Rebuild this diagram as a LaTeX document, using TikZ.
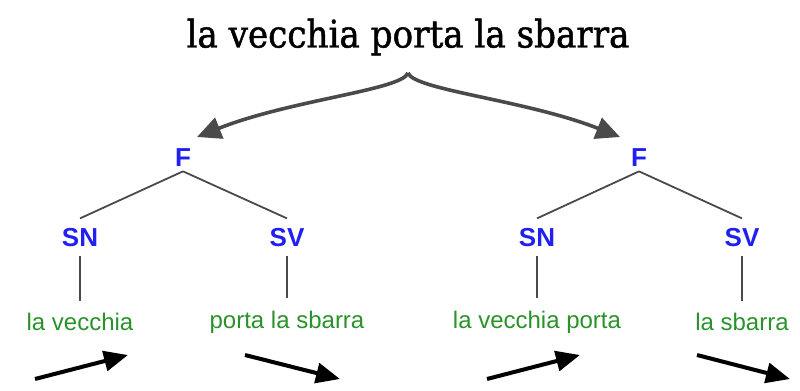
\documentclass[tikz,border=0pt]{standalone}
\usepackage{fontspec}
\setmainfont{Liberation Sans}
\newfontfamily\titlefont[FakeBold=1.2]{DejaVu Serif Condensed}
\usetikzlibrary{arrows.meta}
\definecolor{catblue}{HTML}{2020F0}
\definecolor{leafgreen}{HTML}{2A922A}
\definecolor{branchgray}{HTML}{4A4A4A}
\tikzset{
	cat/.style={text=catblue,font=\bfseries\fontsize{13}{15}\selectfont,inner sep=1pt},
	leaf/.style={text=leafgreen,font=\fontsize{12}{14}\selectfont,inner sep=1pt},
	branch/.style={draw=branchgray,line width=0.9pt},
	pointer/.style={line width=2pt,-{Triangle[length=12pt,width=10pt]}},
	split/.style={draw=branchgray,line width=1.8pt,-{Triangle[length=12pt,width=11pt]}}
}
\begin{document}
\begin{tikzpicture}[x=0.5pt,y=-0.5pt]
			\useasboundingbox (0,0) rectangle (800,391);
			\node[font=\titlefont\fontsize{19}{21}\selectfont] (title) at (408,37) {la vecchia porta la sbarra};
			\coordinate (cusp) at (408,73);
			% first reading
			\node[cat] (F1) at (183,158) {F};
			\node[cat] (SN1) at (80,238) {SN};
			\node[cat] (SV1) at (287,238) {SV};
			\node[leaf] (L1) at (80,322) {la vecchia};
			\node[leaf] (R1) at (287,322) {porta la sbarra};
			% second reading
			\node[cat] (F2) at (639,158) {F};
			\node[cat] (SN2) at (537,238) {SN};
			\node[cat] (SV2) at (742,238) {SV};
			\node[leaf] (L2) at (537,322) {la vecchia porta};
			\node[leaf] (R2) at (742,322) {la sbarra};
			\draw[split] (cusp) .. controls (402,90) and (290,100) .. (197,137);
			\draw[split] (cusp) .. controls (414,90) and (526,100) .. (620,137);
			\foreach \t in {1,2} {
				\draw[branch] ([yshift=-1pt]F\t.south) -- ([yshift=4pt]SN\t.north);
				\draw[branch] ([yshift=-1pt]F\t.south) -- ([yshift=4pt]SV\t.north);
				\draw[branch] ([yshift=-3pt]SN\t.south) -- ([yshift=5pt]L\t.north);
				\draw[branch] ([yshift=-3pt]SV\t.south) -- ([yshift=5pt]R\t.north);
			}
			\coordinate (a1) at (35,379); \coordinate (b1) at (128,355);
			\coordinate (a2) at (245,355); \coordinate (b2) at (340,379);
			\coordinate (a3) at (487,379); \coordinate (b3) at (580,355);
			\coordinate (a4) at (697,355); \coordinate (b4) at (790,379);
			\foreach \k in {1,...,4}
				\draw[pointer] (a\k) -- (b\k);
		\end{tikzpicture}
\end{document}
